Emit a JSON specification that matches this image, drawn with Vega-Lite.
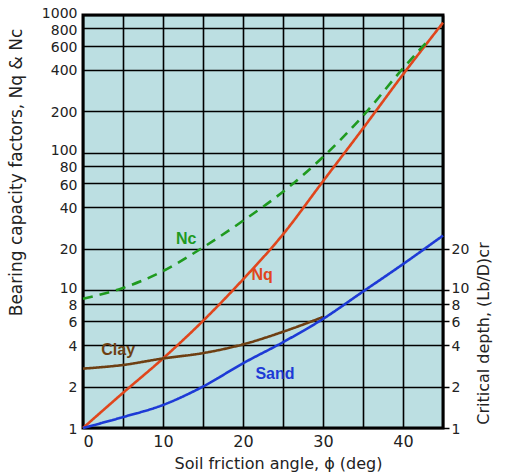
{
  "$schema": "https://vega.github.io/schema/vega-lite/v6.json",
  "autosize": "none",
  "width": 360,
  "height": 413,
  "padding": {"left": 83, "top": 15, "right": 62, "bottom": 48},
  "background": "white",
  "config": {
    "view": {"fill": "#bcdfe2", "stroke": "#000000", "strokeWidth": 3},
    "font": "DejaVu Sans",
    "axis": {"labelFont": "DejaVu Sans", "titleFont": "DejaVu Sans", "labelColor": "#222222", "titleColor": "#222222", "titleFontWeight": "normal", "domain": false, "labelOverlap": false}
  },
  "datasets": {
    "curves": [
      {"phi": 0, "value": 1, "series": "Nq"},
      {"phi": 5, "value": 1.8, "series": "Nq"},
      {"phi": 10, "value": 3.2, "series": "Nq"},
      {"phi": 15, "value": 6, "series": "Nq"},
      {"phi": 20, "value": 12, "series": "Nq"},
      {"phi": 25, "value": 25.5, "series": "Nq"},
      {"phi": 30, "value": 62, "series": "Nq"},
      {"phi": 35, "value": 150, "series": "Nq"},
      {"phi": 40, "value": 370, "series": "Nq"},
      {"phi": 45, "value": 880, "series": "Nq"},
      {"phi": 0, "value": 8.7, "series": "Nc"},
      {"phi": 5, "value": 10.4, "series": "Nc"},
      {"phi": 10, "value": 13.8, "series": "Nc"},
      {"phi": 15, "value": 20.5, "series": "Nc"},
      {"phi": 20, "value": 32, "series": "Nc"},
      {"phi": 25, "value": 52, "series": "Nc"},
      {"phi": 30, "value": 93, "series": "Nc"},
      {"phi": 35, "value": 185, "series": "Nc"},
      {"phi": 40, "value": 410, "series": "Nc"},
      {"phi": 43, "value": 640, "series": "Nc"},
      {"phi": 0, "value": 2.7, "series": "Clay"},
      {"phi": 5, "value": 2.87, "series": "Clay"},
      {"phi": 10, "value": 3.2, "series": "Clay"},
      {"phi": 15, "value": 3.5, "series": "Clay"},
      {"phi": 20, "value": 4.05, "series": "Clay"},
      {"phi": 25, "value": 5.0, "series": "Clay"},
      {"phi": 30, "value": 6.4, "series": "Clay"},
      {"phi": 0, "value": 1, "series": "Sand"},
      {"phi": 5, "value": 1.2, "series": "Sand"},
      {"phi": 10, "value": 1.47, "series": "Sand"},
      {"phi": 15, "value": 2.0, "series": "Sand"},
      {"phi": 20, "value": 2.95, "series": "Sand"},
      {"phi": 25, "value": 4.2, "series": "Sand"},
      {"phi": 30, "value": 6.2, "series": "Sand"},
      {"phi": 35, "value": 9.8, "series": "Sand"},
      {"phi": 40, "value": 15.5, "series": "Sand"},
      {"phi": 45, "value": 25, "series": "Sand"}
    ],
    "labels": [
      {"phi": 12.9, "value": 23.7, "series": "Nc", "label": "Nc"},
      {"phi": 22.4, "value": 12.9, "series": "Nq", "label": "Nq"},
      {"phi": 4.4, "value": 3.7, "series": "Clay", "label": "Clay"},
      {"phi": 24, "value": 2.45, "series": "Sand", "label": "Sand"}
    ]
  },
  "encoding": {
    "x": {
      "field": "phi", "type": "quantitative",
      "scale": {"domain": [0, 45], "nice": false, "zero": false},
      "axis": {
        "values": [0, 5, 10, 15, 20, 25, 30, 35, 40, 45],
        "labelExpr": "datum.value % 10 == 0 ? datum.label : ''",
        "grid": true, "gridColor": "#000000", "gridWidth": 1.6, "gridOpacity": 1,
        "ticks": false, "labelFontSize": 16, "labelPadding": 5,
        "title": "Soil  friction angle, ϕ (deg)", "titleFontSize": 16,
        "titleX": 195, "titleY": 27, "titleBaseline": "top"
      }
    },
    "color": {
      "field": "series", "type": "nominal", "legend": null,
      "scale": {"domain": ["Nq", "Nc", "Clay", "Sand"], "range": ["#e0461c", "#1f9a1f", "#6e3f12", "#1d3ad6"]}
    }
  },
  "layer": [
    {
      "data": {"name": "curves"},
      "mark": {"type": "line", "interpolate": "monotone", "strokeWidth": 2.6},
      "encoding": {
        "y": {
          "field": "value", "type": "quantitative",
          "scale": {"type": "log", "domain": [1, 1000], "nice": false},
          "axis": {
            "orient": "left",
            "values": [1, 2, 4, 6, 8, 10, 20, 40, 60, 80, 100, 200, 400, 600, 800, 1000],
            "format": "d",
            "grid": true, "gridColor": "#000000", "gridWidth": 1.6, "gridOpacity": 1,
            "ticks": false, "labelFontSize": 14, "labelPadding": 6,
            "labelOffset": {"condition": [
              {"test": "datum.value == 1000", "value": -2},
              {"test": "datum.value == 800", "value": 2},
              {"test": "datum.value == 600", "value": 2},
              {"test": "datum.value == 100", "value": -2},
              {"test": "datum.value == 80", "value": 1.5},
              {"test": "datum.value == 60", "value": 2},
              {"test": "datum.value == 10", "value": -2},
              {"test": "datum.value == 8", "value": 1.5},
              {"test": "datum.value == 6", "value": 2}
            ], "value": 1},
            "title": "Bearing capacity factors, Nq & Nc", "titleFontSize": 17,
            "titleX": -58, "titleY": 157
          }
        },
        "strokeDash": {
          "field": "series", "type": "nominal", "legend": null,
          "scale": {"domain": ["Nq", "Nc", "Clay", "Sand"], "range": [[1, 0], [10, 7], [1, 0], [1, 0]]}
        }
      }
    },
    {
      "data": {"name": "labels"},
      "mark": {"type": "text", "font": "Liberation Sans", "fontWeight": "bold", "fontSize": 16},
      "encoding": {
        "y": {
          "field": "value", "type": "quantitative",
          "axis": {
            "orient": "right",
            "values": [1, 2, 4, 6, 8, 10, 20],
            "format": "d",
            "grid": false, "ticks": true, "tickSize": 6, "tickColor": "#000000", "tickWidth": 1.5,
            "labelFontSize": 14, "labelPadding": 2,
            "labelOffset": {"condition": [
              {"test": "datum.value == 10", "value": -2},
              {"test": "datum.value == 8", "value": 1.5},
              {"test": "datum.value == 6", "value": 2}
            ], "value": 1},
            "title": "Critical  depth, (Lb/D)cr", "titleFontSize": 16,
            "titleAngle": 270, "titleX": 48, "titleY": 318
          }
        },
        "text": {"field": "label"}
      }
    }
  ],
  "resolve": {"axis": {"y": "independent"}}
}
